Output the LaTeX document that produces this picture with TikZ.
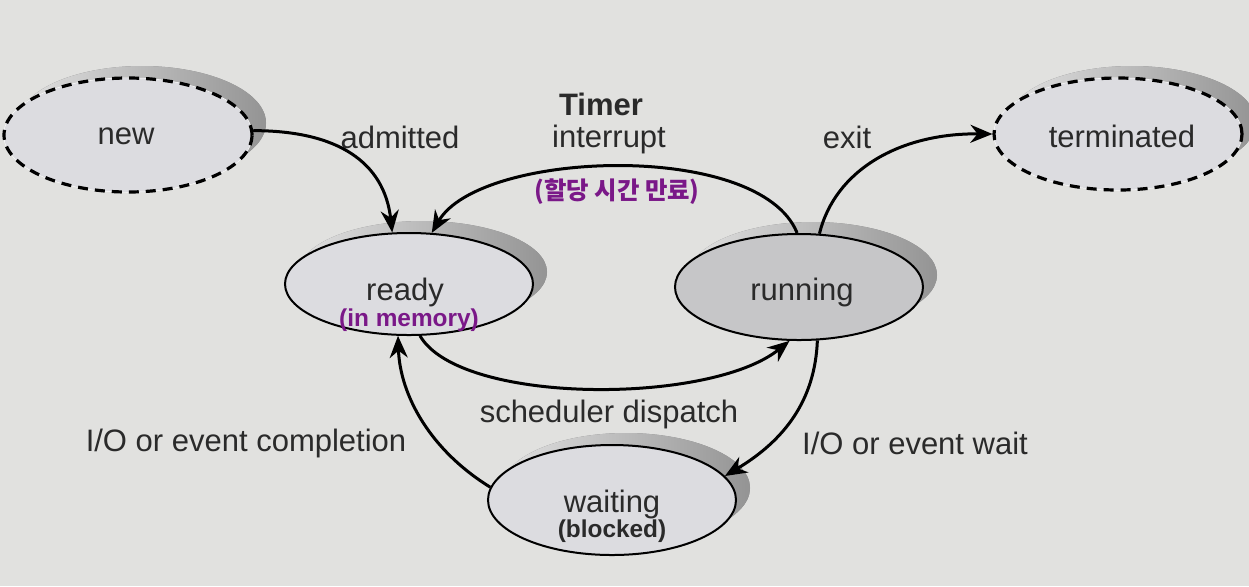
\documentclass[tikz,border=0pt]{standalone}
\usepackage{fontspec}
\setmainfont{Liberation Sans}
\newfontfamily\krfont{Noto Sans CJK KR}
\usetikzlibrary{shapes.geometric,arrows.meta,shadows}
\definecolor{bgc}{HTML}{E1E1DF}
\definecolor{lightfill}{HTML}{DCDCE0}
\definecolor{runfill}{HTML}{C6C6C8}
\definecolor{txt}{HTML}{2A2A2A}
\definecolor{purp}{HTML}{7A1888}
\tikzset{
  state/.style={ellipse, minimum width=124pt, minimum height=53pt, inner sep=0pt,
    fill=lightfill, draw=black, line width=1pt,
    drop shadow={shadow xshift=7pt, shadow yshift=6pt, left color=black!12, right color=black!42, opacity=1, draw=none}},
  dstate/.style={state, draw=black, dash pattern=on 5pt off 3.5pt, line width=1.6pt,
    preaction={draw=white, solid, line width=0.5pt}},
  lbl/.style={text=txt, font=\fontsize{15.5}{18}\selectfont, inner sep=0pt},
  sub/.style={font=\fontsize{12.2}{14}\selectfont\bfseries, inner sep=0pt},
  conn/.style={line width=1.5pt, -{Stealth[length=11pt,width=9pt]}},
}
\begin{document}
\begin{tikzpicture}[x=0.5pt,y=-0.5pt]
\fill[bgc] (0,0) rectangle (1249,586);
\useasboundingbox (0,0) rectangle (1249,586);

\node[dstate, minimum height=57pt] (new) at (128,135) {};
\node[dstate, minimum height=56pt] (term) at (1118,134) {};
\node[state, minimum height=51pt] (ready) at (409,284) {};
\node[state, fill=runfill] (run) at (799,287) {};
\node[state, minimum height=55pt] (wait) at (612,500) {};

\node[lbl] (tnew) at (126,136) {new};
\node[lbl] (tterm) at (1122,136) {terminated};
\node[lbl] (tready) at (405,292) {ready};
\node[sub, text=purp] (tmem) at (409,320) {(in memory)};
\node[lbl] (trun) at (802,292) {running};
\node[lbl] (twait) at (612,504) {waiting};
\node[sub, text=txt] (tblk) at (612,531) {(blocked)};

\node[lbl] (ladm) at (400,137) {admitted};
\node[lbl, font=\fontsize{15.5}{18}\selectfont\bfseries, anchor=base] (ltimer) at (601,115) {Timer};
\node[lbl, anchor=base] (lint) at (609,147) {interrupt};
\node[sub, text=purp, font=\fontsize{12.2}{14}\selectfont\bfseries\krfont] (lkr) at (617,192) {(할당 시간 만료)};
\node[lbl] (lexit) at (847,137) {exit};
\node[lbl] (ldisp) at (609,414) {scheduler dispatch};
\node[lbl] (lcomp) at (246,443) {I/O or event completion};
\node[lbl] (lwait) at (915,443) {I/O or event wait};

\draw[conn] (new.2) .. controls +(85,0) and +(-8,-70) .. (ready.108);
\draw[conn] (run.92) .. controls (760,140) and (480,150) .. (ready.66);
\draw[conn] (run.69) .. controls (835,170) and (900,133) .. (term.west);
\draw[conn] (ready.-78) .. controls (460,405) and (710,405) .. (run.-100);
\draw[conn] (run.-71) .. controls (815,400) and (785,440) .. (wait.12);
\draw[conn] (wait.174) .. controls (430,450) and (400,395) .. (ready.-102);
\end{tikzpicture}
\end{document}
